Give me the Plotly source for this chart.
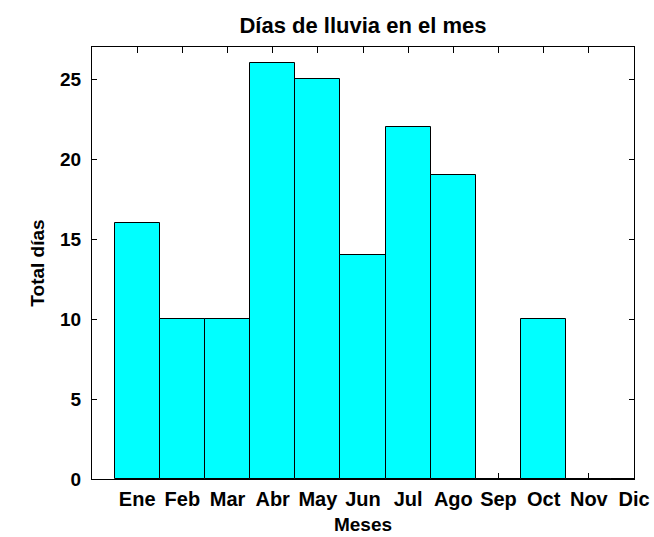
import plotly.graph_objects as go

meses = ["Ene", "Feb", "Mar", "Abr", "May", "Jun", "Jul", "Ago", "Sep", "Oct", "Nov", "Dic"]
dias = [16, 10, 10, 26, 25, 14, 22, 19, 0, 10, 0, 0]
y_ticks = [0, 5, 10, 15, 20, 25]

x_idx = list(range(len(meses)))

fig = go.Figure()
fig.add_trace(go.Bar(
    x=x_idx, y=dias, width=1,
    marker=dict(color="#00FFFF", line=dict(color="black", width=1)),
    showlegend=False,
))

font_fam = "Liberation Sans, Arial, sans-serif"
fig.update_layout(
    width=654, height=537,
    margin=dict(l=92, r=20, t=47, b=58),
    paper_bgcolor="white", plot_bgcolor="rgba(0,0,0,0)",
    title=dict(text="<b>Días de lluvia en el mes</b>", x=0.555, xanchor="center",
               y=0.953, yanchor="middle",
               font=dict(family=font_fam, size=22, color="black")),
    font=dict(family=font_fam, color="black"),
    bargap=0,
)
fig.update_xaxes(
    range=[-1, 11], tickmode="array", tickvals=x_idx, ticktext=meses,
    ticks="inside", ticklen=6, tickcolor="black", tickwidth=1,
    showline=True, linecolor="black", linewidth=1, mirror="ticks",
    showgrid=False, zeroline=False, layer="below traces", automargin=False,
    tickfont=dict(family=font_fam, size=20, color="black", weight="bold"),
    ticklabelstandoff=2,
    title=dict(text="Meses", standoff=8,
               font=dict(family=font_fam, size=19, color="black", weight="bold")),
)
fig.update_yaxes(
    range=[0, 27], tickmode="array", tickvals=y_ticks,
    ticks="inside", ticklen=5, tickcolor="black", tickwidth=1,
    showline=True, linecolor="black", linewidth=1, mirror="ticks",
    showgrid=False, zeroline=False, layer="below traces", automargin=False,
    tickfont=dict(family=font_fam, size=19, color="black", weight="bold"),
    ticklabelstandoff=6,
    title=dict(text="Total días", standoff=10,
               font=dict(family=font_fam, size=19, color="black", weight="bold")),
)

fig.write_html("out.html", config={"displayModeBar": False},
               post_script="document.body.style.margin='0';")
